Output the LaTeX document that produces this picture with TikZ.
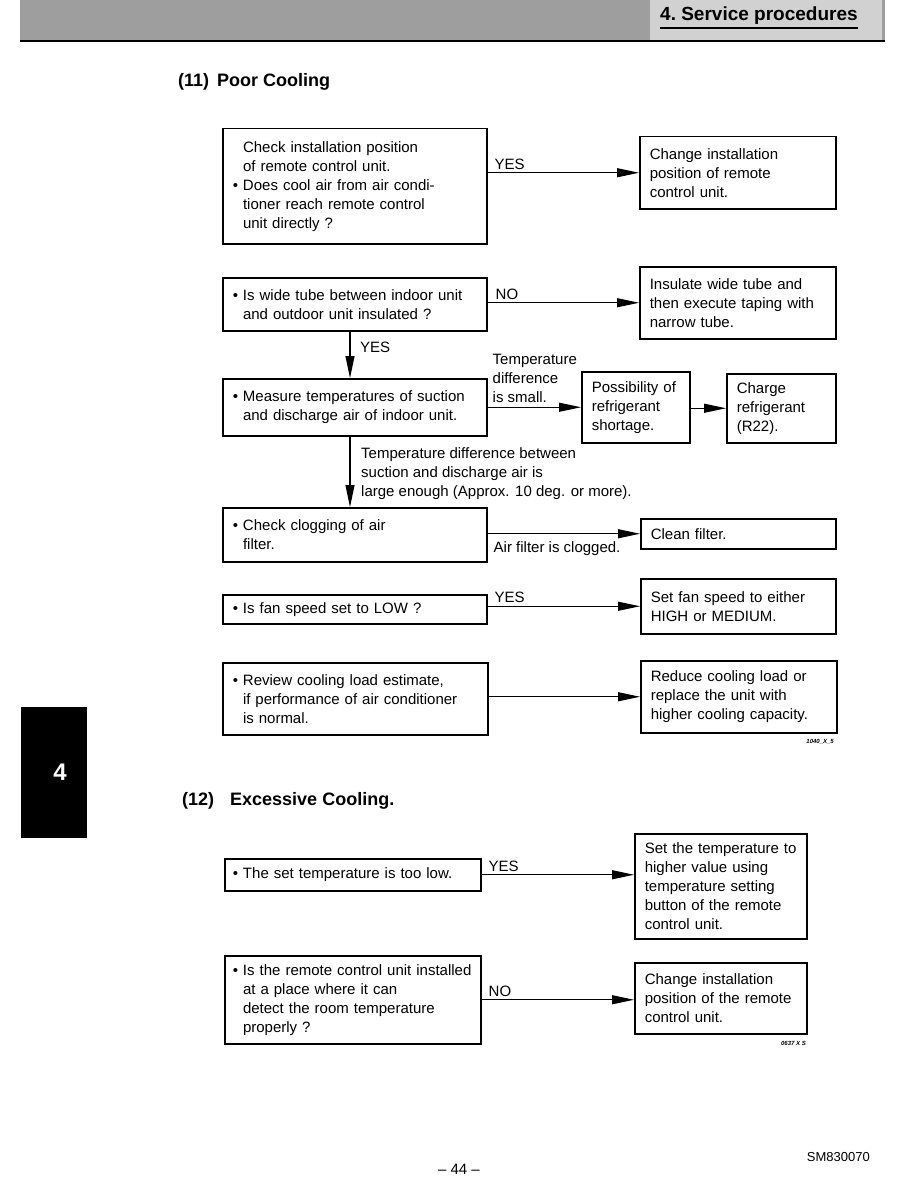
\documentclass[tikz,border=0pt]{standalone}
\usepackage{fontspec}
\setmainfont{Liberation Sans}
\usetikzlibrary{arrows.meta, positioning}

\newcommand{\boxfont}{\fontsize{15}{19}\selectfont}
\newcommand{\titlefont}{\fontsize{18}{22}\selectfont\bfseries}
\newcommand{\headfont}{\fontsize{19}{23}\selectfont\bfseries}
\newcommand{\codefont}{\fontsize{6}{7}\selectfont\bfseries\itshape}
\newcommand{\bl}{\textbullet\ }
\newcommand{\ind}{\phantom{\textbullet\ }}

\begin{document}
\begin{tikzpicture}[x=1pt, y=-1pt,
  qbox/.style={draw, line width=1.5pt, anchor=north west, align=left,
               inner xsep=10pt, inner ysep=0pt, text width=#1, font=\boxfont},
  flow/.style={line width=1.1pt, -{Triangle[length=22pt, width=9pt]}},
  lbl/.style={font=\boxfont, align=left, inner sep=0pt},
  title/.style={font=\titlefont, anchor=west, inner sep=0pt},
]
\useasboundingbox (0,0) rectangle (918,1188);

% page header band and chapter tab
\fill[black!38] (20,0) rectangle (885,40);
\fill[black!18] (650,0) rectangle (882,40);
\draw[line width=2.5pt] (20,41) -- (885,41);
\node[font=\headfont, anchor=west, inner sep=0pt] (head) at (660,16) {4.\ Service procedures};
\draw[line width=1.5pt] ([shift={(0,3)}]head.south west) -- ([shift={(0,3)}]head.south east);
\fill (21,707) rectangle (87,838);
\node[font=\fontsize{24}{28}\selectfont\bfseries, text=white, inner sep=0pt] (tabno) at (60,772) {4};

% (11) poor cooling
\node[title] (t11) at (178,82) {(11)\hspace{8pt}Poor Cooling};

\node[qbox=244pt, minimum height=115pt] (chk) at (222,128)
  {\ind Check installation position\\ \ind of remote control unit.\\
   \bl Does cool air from air condi-\\ \ind tioner reach remote control\\ \ind unit directly ?};
\node[qbox=176pt, minimum height=72pt] (chkres) at (639,136)
  {Change installation\\ position of remote\\ control unit.};

\node[qbox=244pt, minimum height=53pt] (tube) at (222,277)
  {\bl Is wide tube between indoor unit\\ \ind and outdoor unit insulated ?};
\node[qbox=176pt, minimum height=72pt] (tuberes) at (639,266)
  {Insulate wide tube and\\ then execute taping with\\ narrow tube.};

\node[qbox=244pt, minimum height=57pt] (meas) at (222,378)
  {\bl Measure temperatures of suction\\ \ind and discharge air of indoor unit.};
\node[qbox=88pt, minimum height=71pt] (short) at (581,371)
  {Possibility of\\ refrigerant\\ shortage.};
\node[qbox=89pt, minimum height=69pt] (charge) at (726,373)
  {Charge\\ refrigerant\\ (R22).};

\node[qbox=244pt, minimum height=54pt] (filt) at (222,507)
  {\bl Check clogging of air\\ \ind filter.};
\node[qbox=175pt, minimum height=30pt] (clean) at (640,518) {Clean filter.};

\node[qbox=244pt, minimum height=29pt] (fan) at (222,594)
  {\bl Is fan speed set to LOW ?};
\node[qbox=175pt, minimum height=55pt] (fanset) at (640,578)
  {Set fan speed to either\\ HIGH or MEDIUM.};

\node[qbox=245pt, minimum height=72pt] (load) at (222,662)
  {\bl Review cooling load estimate,\\ \ind if performance of air conditioner\\ \ind is normal.};
\node[qbox=176pt, minimum height=72pt] (reduce) at (640,660)
  {Reduce cooling load or\\ replace the unit with\\ higher cooling capacity.};
\node[font=\codefont, anchor=east, inner sep=0pt] (code11) at (834,742) {1040\_X\_5};

% connectors of (11)
\coordinate (spine) at (350,0);
\draw[flow] (chk.east |- chkres.west) -- (chkres.west);
\node[lbl, anchor=south west] (yes1) at ([shift={(7,-3)}]chk.east |- chkres.west) {YES};
\draw[flow] (tube.east |- tuberes.west) -- (tuberes.west);
\node[lbl, anchor=south west] (no1) at ([shift={(8,-3)}]tube.east |- tuberes.west) {NO};
\draw[flow] (tube.south -| spine) -- (meas.north -| spine);
\node[lbl, anchor=west] (yes2) at (360,347) {YES};
\draw[flow] (meas.east |- short.west) -- (short.west);
\node[lbl, anchor=south west] (small) at ([shift={(5,-4)}]meas.east |- short.west)
  {Temperature\\ difference\\ is small.};
\draw[flow] (short.east |- charge.west) -- (charge.west);
\draw[flow] (meas.south -| spine) -- (filt.north -| spine);
\node[lbl, anchor=north west] (large) at ([shift={(11,11)}]meas.south -| spine)
  {Temperature difference between\\ suction and discharge air is\\ large enough (Approx. 10 deg. or more).};
\draw[flow] (filt.east |- clean.west) -- (clean.west);
\node[lbl, anchor=north west] (clog) at ([shift={(6,8)}]filt.east |- clean.west) {Air filter is clogged.};
\draw[flow] (fan.east |- fanset.west) -- (fanset.west);
\node[lbl, anchor=south west] (yes3) at ([shift={(7,-3)}]fan.east |- fanset.west) {YES};
\draw[flow] (load.east |- reduce.west) -- (reduce.west);

% (12) excessive cooling
\node[title] (t12) at (182,801) {(12)\hspace{16pt}Excessive Cooling.};

\node[qbox=240pt, inner xsep=8pt, minimum height=32pt] (settemp) at (224,858)
  {\bl The set temperature is too low.};
\node[qbox=152pt, minimum height=105pt] (raise) at (634,833)
  {Set the temperature to\\ higher value using\\ temperature setting\\ button of the remote\\ control unit.};
\node[qbox=240pt, inner xsep=8pt, minimum height=88pt] (place) at (224,955)
  {\bl Is the remote control unit installed\\ \ind at a place where it can\\ \ind detect the room temperature\\ \ind properly ?};
\node[qbox=152pt, minimum height=71pt] (move) at (634,962)
  {Change installation\\ position of the remote\\ control unit.};
\node[font=\codefont, anchor=east, inner sep=0pt] (code12) at (806,1043) {0637 X S};

\draw[flow] (settemp.east) -- (settemp.east -| raise.west);
\node[lbl, anchor=south west] (yes4) at ([shift={(7,-3)}]settemp.east) {YES};
\draw[flow] (place.east) -- (place.east -| move.west);
\node[lbl, anchor=south west] (no2) at ([shift={(7,-3)}]place.east) {NO};

% footer
\node[font=\boxfont, inner sep=0pt] (page) at (459,1169) {-- 44 --};
\node[font=\fontsize{13}{15}\selectfont, anchor=east, inner sep=0pt] (docno) at (870,1157) {SM830070};
\end{tikzpicture}
\end{document}
